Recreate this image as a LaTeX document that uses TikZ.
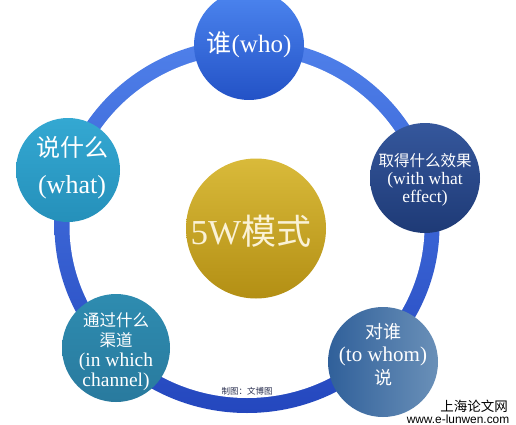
\documentclass[tikz,border=0pt]{standalone}
\usepackage{fontspec}
\setmainfont{Liberation Serif}
\newfontfamily\cjk{Noto Sans CJK SC}
\newfontfamily\wsans{Liberation Sans}
\definecolor{ringtop}{HTML}{4F80EA}
\definecolor{ringbot}{HTML}{2447BE}
\definecolor{whoT}{HTML}{4D86F0}
\definecolor{whoB}{HTML}{2352C6}
\definecolor{effT}{HTML}{35579C}
\definecolor{effB}{HTML}{1E3A76}
\definecolor{whomL}{HTML}{30609A}
\definecolor{whomR}{HTML}{6A90B8}
\definecolor{chT}{HTML}{2E8CB0}
\definecolor{chB}{HTML}{297A9E}
\definecolor{whatT}{HTML}{34A8D2}
\definecolor{whatB}{HTML}{2590BA}
\definecolor{goldT}{HTML}{D9BA3A}
\definecolor{goldB}{HTML}{B38F14}
\definecolor{cream}{HTML}{FAF2D6}
\definecolor{credit}{HTML}{2A3050}
\begin{document}
\begin{tikzpicture}[x=1pt,y=-1pt,
  bubble/.style={circle,inner sep=0pt,text=white,align=center},
  label/.style={text=white,align=center}]
\useasboundingbox (0,0) rectangle (516,425);
\fill[white] (0,0) rectangle (516,425);
% ring
\coordinate (rc) at (247,226);
\shade[top color=ringtop,bottom color=ringbot] (rc) ellipse [x radius=192.5,y radius=187];
\fill[white] (rc) ellipse [x radius=177.5,y radius=172];
% bubbles
\node[bubble,minimum size=110pt,top color=whoT,bottom color=whoB] (who) at (249,45) {};
\node[bubble,minimum size=110pt,top color=effT,bottom color=effB] (effect) at (425,178) {};
\node[bubble,minimum size=110pt,left color=whomL,right color=whomR] (whom) at (383,362) {};
\node[bubble,minimum size=108pt,top color=chT,bottom color=chB] (channel) at (116,348) {};
\node[bubble,minimum size=104pt,top color=whatT,bottom color=whatB] (what) at (68,170) {};
\node[bubble,minimum size=140pt,top color=goldT,bottom color=goldB] (five) at (256,228.5) {};
% texts
\node[label,font=\fontsize{25}{30}\selectfont] (twho) at (who) {{\cjk 谁}(who)};
\node[label,font=\fontsize{26}{37}\selectfont] (twhat) at (72,168) {{\cjk\fontsize{24}{37}\selectfont 说什么}\\(what)};
\node[label,font=\fontsize{17.5}{18}\selectfont] (teffect) at (425,180) {{\cjk\fontsize{15.5}{18}\selectfont 取得什么效果}\\(with what\\effect)};
\node[label,font=\fontsize{21}{23}\selectfont] (twhom) at (383,355) {{\cjk\fontsize{18}{23}\selectfont 对谁}\\(to whom)\\{\cjk\fontsize{18}{23}\selectfont 说}};
\node[label,font=\fontsize{19.5}{20}\selectfont] (tchannel) at (116,352) {{\cjk\fontsize{16.5}{20}\selectfont 通过什么}\\{\cjk\fontsize{16.5}{20}\selectfont 渠道}\\(in which\\channel)};
\node[text=cream,font=\fontsize{35}{40}\selectfont] (tfive) at (251,231) {5W{\cjk 模式}};
\node[text=credit,font=\cjk\fontsize{8.5}{10}\selectfont] (tcredit) at (247,391) {制图：文博图};
\node[text=black,font=\cjk\fontsize{13.5}{15}\selectfont] (wm1) at (474,406) {上海论文网};
\node[text=black,font=\wsans\fontsize{11.9}{13}\selectfont] (wm2) at (458,419) {www.e-lunwen.com};
\end{tikzpicture}
\end{document}
